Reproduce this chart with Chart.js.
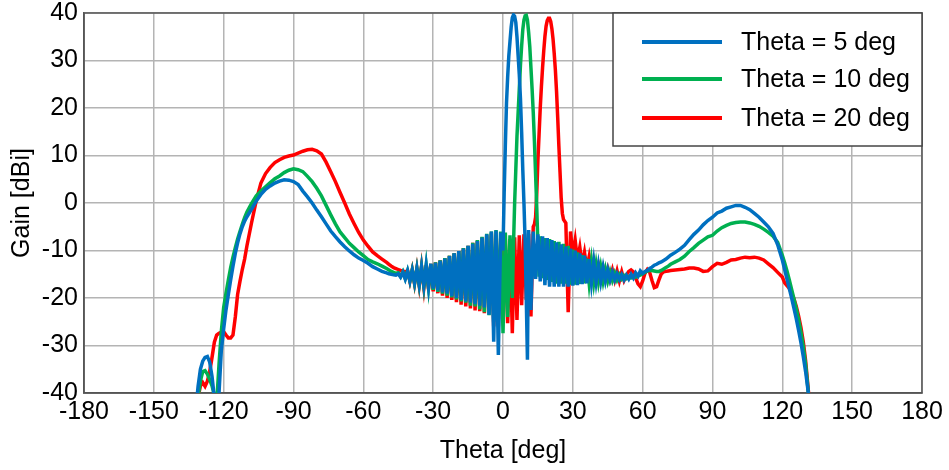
<!DOCTYPE html>
<html>
<head>
<meta charset="utf-8">
<script src="https://cdn.jsdelivr.net/npm/chart.js@4"></script>
<style>
  html, body { margin: 0; padding: 0; background: #ffffff; }
  canvas { display: block; }
</style>
</head>
<body>
<canvas id="c" width="949" height="470"></canvas>
<script>
// ---------- data ----------
const seriesLabels = ['Theta = 5 deg', 'Theta = 10 deg', 'Theta = 20 deg'];
const seriesColors = ['#0070C0', '#00B050', '#FF0000'];

const xTicks = [-180, -150, -120, -90, -60, -30, 0, 30, 60, 90, 120, 150, 180];
const yTicks = [-40, -30, -20, -10, 0, 10, 20, 30, 40];

// observation angles (deg)
const theta = [
  -133,-132,-131,-130,-129,-128,-127,-126,-125,-124,-123,-122,-121,-120,-119,-118,-117,-116,-115,-114,-113,-112,-111,-110,
  -108,-106,-104,-102,-100,-98,-96,-94,-92,-90,-88,-86,-84,-82,-80,-78,-76,-74,-72,-70,-68,-66,-64,-62,-60,-58,-56,-54,-52,-50,
  -49,-48,-47,-46,-45,-44,-43,-42,-41,-40,-39,-38,-37,-36,-35,-34,-33,-32,-31,-30,-29,-28,-27,-26,-25,-24,-23,-22,-21,-20,
  -19,-18,-17,-16,-15,-14,-13,-12,-11,-10,-9,-8,-7,-6,-5,-4,-3,-2,-1,
  0,0.5,1,1.5,2,2.5,3,3.5,4,4.5,5,5.5,6,6.5,7,7.5,8,8.5,9,9.5,10,10.5,11,11.5,12,12.5,13,13.5,14,14.5,15,15.5,16,16.5,17,17.5,
  18,18.5,19,19.5,20,20.5,21,21.5,22,22.5,23,23.5,24,24.5,25,25.5,26,
  27,28,29,30,31,32,33,34,35,36,37,38,39,40,41,42,43,44,45,46,47,48,49,50,51,52,53,54,55,56,57,58,59,60,61,62,63,64,65,66,67,68,69,70,71,72,
  74,76,78,80,82,84,86,88,90,92,94,96,98,100,102,104,106,108,110,112,114,116,118,120,
  121,122,123,124,125,126,127,128,129,130,131,132,133
];

// Gain [dBi], Theta = 5 deg (null = no sample at that angle)
const gain5 = [
  -48,-44,-38.6,-35,-33.3,-32.5,-32.3,-33.5,-36.5,-41,-46,-40,-31,-26.5,-22.5,-19.3,-16.2,-13.3,-10.6,-8.4,-6.5,-5.0,-3.8,-2.9,
  -1.3,0.4,1.8,2.9,3.6,4.2,4.6,4.9,4.8,4.5,3.9,2.5,1.3,0.0,-1.5,-2.9,-4.4,-5.9,-7.1,-8.2,-9.2,-10.1,-10.9,-11.6,-12.1,-12.7,-13.4,-13.9,-14.4,-14.7,
  -14.9,-15.0,-15.1,-15.2,-14.9,-15.6,-14.6,-16.0,-14.3,-16.4,-14.2,-16.8,-13.9,-17.1,-13.5,-17.3,-13.2,-17.6,-12.8,-18.0,-12.6,-18.4,-12.2,-18.8,-11.7,-19.1,-11.2,-19.6,-10.6,-20.0,
  -10.1,-20.4,-9.6,-20.7,-9.0,-21.0,-8.6,-21.3,-8.0,-21.6,-7.3,-22.0,-6.6,-23.5,-6.0,-29.2,-5.8,-32.0,-6.2,
  -10,2,12,21,26.5,31,34,37,39,39.6,39.3,38,35,31,27,22,15,7,0,-8,-20,-33,-5.7,null,-22.5,null,-6.0,null,-16,null,-6.6,null,-16.5,null,-7.0,null,
  -17.3,null,-7.4,null,-17.6,null,-7.8,null,-17.6,null,-8.3,null,-17.6,null,-8.7,null,-17.6,
  -9.2,-17.6,-9.6,-17.4,-10.0,-17.3,-10.6,-17.1,-11.1,-16.9,-11.8,-16.8,-12.4,-16.6,-13.1,-16.5,-13.6,-16.4,-14.1,-16.2,-14.6,-16.2,-14.9,-16.1,-15.1,-16.2,-15.2,-16.0,-15.0,-15.8,-14.7,-15.4,-14.3,-14.8,-14.4,-14.2,-13.8,-13.5,-13.1,-12.9,-12.6,-12.4,-12.1,-11.8,-11.4,-11.0,
  -10.4,-9.7,-8.9,-7.7,-6.6,-5.7,-4.6,-3.7,-3.0,-2.1,-1.7,-1.1,-0.8,-0.5,-0.5,-0.9,-1.4,-2.2,-3.0,-4.0,-5.0,-6.4,-8.8,-12.0,
  -14.0,-16.0,-18.0,-20.0,-22.2,-24.4,-26.8,-29.4,-32.3,-35.5,-39.3,-44,-49
];

// Gain [dBi], Theta = 10 deg
const gain10 = [
  -48,-45,-41,-37.5,-35.5,-35.3,-36,-37.2,-38.5,-40.5,-42,-34,-27,-22,-19,-16.2,-13.6,-11.4,-9.4,-7.6,-6.0,-4.5,-3.1,-1.9,
  -0.1,1.5,2.5,3.4,4.3,5.1,5.7,6.4,6.9,7.2,7.0,6.6,5.6,4.5,3.1,1.5,-0.5,-2.5,-4.4,-6.1,-7.3,-8.5,-9.4,-10.3,-11.1,-11.9,-12.4,-12.8,-13.3,-13.8,
  -14.1,-14.4,-14.6,-14.8,-14.7,-15.5,-14.5,-15.9,-14.3,-16.4,-14.1,-16.9,-13.8,-17.2,-13.4,-17.5,-13.1,-17.8,-12.8,-18.3,-12.5,-18.7,-12.1,-19.1,-11.6,-19.5,-11.1,-19.9,-10.6,-20.3,
  -10.1,-20.7,-9.5,-21.0,-9.0,-21.6,-8.4,-21.8,-7.8,-22.4,-7.1,-23.0,-6.5,-23.6,-6.0,-25.0,-5.7,-26.0,-6.0,
  -27.4,null,-6.2,null,-24,null,-6.8,null,-20,-9,0,7,14,19,24,29,33,36.5,38.5,39.4,39.5,38.5,36,33,28.5,24,19,13,6,-1,-9,-15.5,-7.0,null,-15.8,null,
  -7.4,null,-16.2,null,-7.6,null,-16.6,null,-8.0,null,-17.0,null,-8.2,null,-17.0,null,-8.6,
  -17.0,-9.0,-17.2,-9.8,-17.2,-10.4,-17.0,-11.0,-16.9,-11.7,-16.8,-12.3,-16.7,-13.0,-16.6,-13.5,-16.5,-14.0,-16.4,-14.5,-16.3,-14.8,-16.2,-15.1,-16.0,-15.3,-15.9,-15.5,-15.8,-15.5,-15.6,-15.3,-15.2,-14.9,-14.6,-14.3,-14.2,-14.2,-14.3,-14.4,-14.4,-14.2,-13.9,-13.6,-13.3,-12.9,
  -12.4,-11.9,-11.2,-10.2,-9.4,-8.5,-7.8,-7.1,-6.8,-5.9,-5.2,-4.7,-4.3,-4.1,-4.0,-4.0,-4.2,-4.5,-4.9,-5.5,-6.2,-7.0,-8.3,-11.0,
  -12.6,-14.3,-16.2,-18.2,-20.2,-22.3,-24.6,-27.2,-30.2,-34,-39,-44,-49
];

// Gain [dBi], Theta = 20 deg
const gain20 = [
  -50,-46,-41,-38.5,-37.8,-38.6,-37.5,-35.5,-32.5,-29.3,-27.8,-27.4,-27.2,-27.1,-27.8,-28.4,-28.4,-27.8,-24,-19.2,-16.5,-14.0,-11.8,-9.0,
  -4.1,0.5,4.2,6.2,7.5,8.5,9.1,9.6,9.9,10.1,10.5,10.9,11.2,11.3,11.0,10.3,8.6,6.6,4.5,2.2,0.0,-2.3,-4.3,-6.2,-7.8,-9.1,-10.3,-11.1,-11.8,-12.5,
  -12.9,-13.3,-13.6,-13.8,-14.0,-14.2,-14.3,-14.5,-14.2,-16.5,-14.1,-17.0,-13.8,-17.4,-13.4,-17.8,-13.1,-18.2,-12.8,-18.6,-12.5,-19.0,-12.1,-19.5,-11.6,-20.0,-11.1,-20.4,-10.6,-20.9,
  -10.1,-21.4,-9.5,-21.8,-9.0,-22.2,-8.4,-22.6,-7.9,-22.8,-7.3,-23.2,-6.8,-22.0,-6.4,-26.0,-6.8,-24.5,-7.5,
  -22,null,-7.8,null,-25.3,null,-7.6,null,-27.4,null,-7.2,null,-24.6,null,-6.8,null,-21.5,null,-6.6,null,-20.4,null,-6.5,null,-23.9,null,-5.0,-4.5,-3,2,9,14.5,20,24.5,28.5,32,
  35,37.2,38.4,38.9,38.9,38.2,36.7,34.5,31.5,28,23.5,18,12,6.5,1,-2.2,-3.5,
  -4.2,-23.0,-6.0,-11.0,-7.8,-12.0,-9.3,-13.0,-10.4,-13.8,-11.3,-14.5,-12.3,-15.0,-13.0,-15.4,-13.6,-15.8,-13.9,-16.0,-14.1,-16.2,-14.3,-16.4,-14.5,-16.3,-15.2,-14.4,-14.1,-14.5,-15.8,-17.0,-17.6,-16.4,-14.8,-14.0,-14.6,-16.3,-17.8,-17.6,-16.2,-14.9,-14.5,-14.4,-14.3,-14.2,
  -14.1,-14.0,-13.9,-13.7,-13.7,-13.9,-14.4,-14.3,-13.4,-12.7,-12.9,-12.5,-12.0,-11.9,-11.6,-11.4,-11.5,-11.4,-11.6,-12.0,-12.8,-13.6,-14.6,-15.6,
  -16.8,-17.4,-18.0,-19.0,-20.2,-21.8,-23.8,-26.2,-29.2,-33.2,-38.5,-44,-49
];

const gains = [gain5, gain10, gain20];
gains.forEach((g, i) => { if (g.length !== theta.length) console.warn('length mismatch', i, g.length, theta.length); });

// ---------- chart ----------
const FONT = "'Liberation Sans', Arial, sans-serif";
const FS = 25;

const framePlugin = {
  id: 'frame',
  beforeDatasetsDraw(chart) {
    const { ctx, chartArea: a } = chart;
    ctx.save();
    ctx.strokeStyle = '#555555';
    ctx.lineWidth = 1.5;
    ctx.strokeRect(a.left, a.top, a.right - a.left, a.bottom - a.top);
    ctx.restore();
  }
};

const boxLegend = {
  id: 'boxLegend',
  afterDraw(chart) {
    const { ctx, chartArea: a } = chart;
    const boxW = 309, boxH = 133;
    const bx = a.right - boxW, by = a.top;
    ctx.save();
    ctx.fillStyle = '#ffffff';
    ctx.fillRect(bx, by, boxW, boxH);
    ctx.strokeStyle = '#444444';
    ctx.lineWidth = 1.5;
    ctx.strokeRect(bx, by, boxW, boxH);
    const rowY = [29, 66, 105];
    chart.data.datasets.forEach((ds, i) => {
      const y = by + rowY[i];
      ctx.strokeStyle = ds.borderColor;
      ctx.lineWidth = 4;
      ctx.beginPath();
      ctx.moveTo(bx + 29, y);
      ctx.lineTo(bx + 109, y);
      ctx.stroke();
      ctx.fillStyle = '#000000';
      ctx.font = FS + 'px ' + FONT;
      ctx.textBaseline = 'middle';
      ctx.textAlign = 'left';
      ctx.fillText(ds.label, bx + 128, y + 1);
    });
    ctx.restore();
  }
};

const datasets = seriesLabels.map((label, i) => ({
  label,
  data: theta.map((t, k) => ({ x: t, y: gains[i][k] })),
  borderColor: seriesColors[i],
  backgroundColor: seriesColors[i],
  borderWidth: 3.5,
  pointRadius: 0,
  tension: 0,
  spanGaps: true,
  fill: false
}));

new Chart(document.getElementById('c'), {
  type: 'line',
  data: { datasets },
  options: {
    responsive: false,
    animation: false,
    events: [],
    layout: { padding: { top: 13, right: 27, left: 0, bottom: 0 } },
    plugins: { legend: { display: false }, tooltip: { enabled: false } },
    scales: {
      x: {
        type: 'linear',
        min: xTicks[0], max: xTicks[xTicks.length - 1],
        afterBuildTicks: s => { s.ticks = xTicks.map(v => ({ value: v })); },
        ticks: { color: '#000', font: { family: FONT, size: FS, lineHeight: 1 }, padding: 7, maxRotation: 0, autoSkip: false,
                 callback: v => String(v) },
        grid: { color: '#b4b4b4', lineWidth: 1.5, drawTicks: false },
        border: { color: '#555555', width: 1.5 },
        title: { display: true, text: 'Theta [deg]', color: '#000', font: { family: FONT, size: FS }, padding: { top: 0, bottom: 4 } },
        afterFit: s => { s.height = 77; s.paddingLeft = 0; s.paddingRight = 0; }
      },
      y: {
        type: 'linear',
        min: yTicks[0], max: yTicks[yTicks.length - 1],
        afterBuildTicks: s => { s.ticks = yTicks.map(v => ({ value: v })); },
        ticks: { color: '#000', font: { family: FONT, size: FS, lineHeight: 1 }, padding: 6, autoSkip: false,
                 callback: v => String(v) },
        grid: { color: '#b4b4b4', lineWidth: 1.5, drawTicks: false },
        border: { color: '#555555', width: 1.5 },
        title: { display: true, text: 'Gain [dBi]', color: '#000', font: { family: FONT, size: FS }, padding: { top: 7, bottom: 0 } },
        afterFit: s => { s.width = 84; s.paddingTop = 0; s.paddingBottom = 0; }
      }
    }
  },
  plugins: [framePlugin, boxLegend]
});
</script>
</body>
</html>
